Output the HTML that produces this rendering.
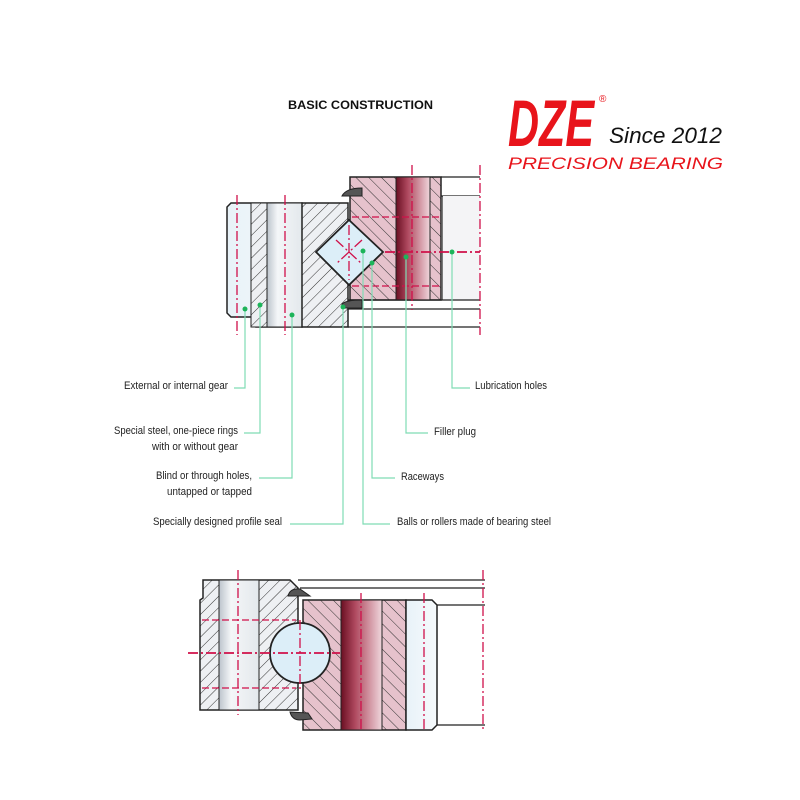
<!DOCTYPE html>
<html><head><meta charset="utf-8"><style>
html,body{margin:0;padding:0;background:#fff;width:800px;height:800px;overflow:hidden}
svg{display:block}
.lb{font-family:"Liberation Sans",sans-serif;font-size:11px;fill:#222}
</style></head><body>
<svg width="800" height="800" viewBox="0 0 800 800" xmlns="http://www.w3.org/2000/svg">
<defs>
<pattern id="hg" width="8" height="8" patternUnits="userSpaceOnUse" patternTransform="rotate(45)">
<rect width="8" height="8" fill="#eef0f3"/><line x1="0" y1="0" x2="0" y2="8" stroke="#333" stroke-width="1"/></pattern>
<pattern id="hp" width="9" height="9" patternUnits="userSpaceOnUse" patternTransform="rotate(-45)">
<rect width="9" height="9" fill="#e6c2cc"/><line x1="0" y1="0" x2="0" y2="9" stroke="#333" stroke-width="1"/></pattern>
<linearGradient id="cyl" x1="0" x2="1"><stop offset="0" stop-color="#bcc4cc"/><stop offset="0.3" stop-color="#f4f6f8"/><stop offset="1" stop-color="#e3e8ec"/></linearGradient>
<linearGradient id="red" x1="0" x2="1"><stop offset="0" stop-color="#6a0f22"/><stop offset="0.35" stop-color="#b04a60"/><stop offset="1" stop-color="#efd6dc"/></linearGradient>
<linearGradient id="lb" x1="0" x2="1"><stop offset="0" stop-color="#e8f2f8"/><stop offset="1" stop-color="#f6fafc"/></linearGradient>
</defs>

<text x="288" y="109" font-family="Liberation Sans,sans-serif" font-weight="bold" font-size="12" fill="#111" textLength="145" lengthAdjust="spacingAndGlyphs">BASIC CONSTRUCTION</text>

<!-- logo -->
<text x="508" y="146" font-family="Liberation Sans,sans-serif" font-weight="bold" font-style="italic" font-size="66" fill="#e8141b" textLength="86" lengthAdjust="spacingAndGlyphs">DZE</text>
<text x="599" y="102" font-family="Liberation Sans,sans-serif" font-size="10" fill="#e8141b">®</text>
<text x="609" y="143" font-family="Liberation Sans,sans-serif" font-style="italic" font-size="22" fill="#111" textLength="113" lengthAdjust="spacingAndGlyphs">Since 2012</text>
<text x="508" y="169" font-family="Liberation Sans,sans-serif" font-style="italic" font-size="17" fill="#e8141b" textLength="215" lengthAdjust="spacingAndGlyphs">PRECISION BEARING</text>

<!-- TOP DRAWING -->
<g stroke="#222" stroke-width="1.5">
<path d="M231 203 L302 203 L302 327 L256 327 L256 317 L231 317 L227 313 L227 207 Z" fill="url(#lb)"/>
<rect x="251" y="203" width="16" height="124" fill="url(#hg)" stroke-width="1"/>
<rect x="267" y="203" width="35" height="124" fill="url(#cyl)" stroke-width="1"/>
<path d="M302 203 L348 203 L348 327 L302 327 Z" fill="url(#hg)"/>
<rect x="350" y="177" width="91" height="123" fill="url(#hp)"/>
<rect x="396" y="177" width="34" height="123" fill="url(#red)" stroke-width="1"/>
<path d="M441 177 L480 177 M441 196 L480 196 M443 196 L443 300" fill="none" stroke-width="1.2"/>
<rect x="443" y="196" width="37" height="104" fill="#f4f4f6" stroke="none"/>
<path d="M348 300 L480 300 M348 309 L480 309 M348 327 L480 327" fill="none" stroke-width="1.2"/>
<polygon points="349,220 383,252 349,285 316,252" fill="#dceef8" stroke-width="1.8"/>
</g>
<path d="M342 196 Q346 188 362 188 L362 196 Z" fill="#555" stroke="#222"/>
<path d="M342 304 Q346 300 362 300 L362 308 L342 308 Z" fill="#555" stroke="#222"/>
<g stroke="#d0104a" stroke-width="1.3" stroke-dasharray="10,3,2,3" fill="none">
<line x1="237" y1="195" x2="237" y2="335"/>
<line x1="285" y1="195" x2="285" y2="335"/>
<line x1="412" y1="165" x2="412" y2="310"/>
<line x1="480" y1="165" x2="480" y2="335"/>
<line x1="385" y1="252" x2="480" y2="252" stroke-width="1.8"/>
<line x1="336" y1="240" x2="362" y2="264"/><line x1="362" y1="240" x2="336" y2="264"/>
<line x1="349" y1="225" x2="349" y2="280"/>
</g>
<g stroke="#d0104a" stroke-width="1.3" stroke-dasharray="7,3" fill="none">
<line x1="352" y1="217" x2="440" y2="217"/><line x1="352" y1="286" x2="440" y2="286"/>
</g>
<!-- leaders -->
<g stroke="#7fdcb4" stroke-width="1.2" fill="none">
<path d="M245 309 V388 H234"/>
<path d="M260 305 V433 H244"/>
<path d="M292 315 V478 H259"/>
<path d="M343 307 V524 H290"/>
<path d="M363 251 V524 H390"/>
<path d="M372 263 V478 H395"/>
<path d="M406 257 V433 H428"/>
<path d="M452 252 V388 H470"/>
</g>
<g fill="#1db45a">
<circle cx="245" cy="309" r="2.5"/><circle cx="260" cy="305" r="2.5"/><circle cx="292" cy="315" r="2.5"/>
<circle cx="343" cy="307" r="2.5"/><circle cx="363" cy="251" r="2.5"/><circle cx="372" cy="263" r="2.5"/>
<circle cx="406" cy="257" r="2.5"/><circle cx="452" cy="252" r="2.5"/>
</g>
<text class="lb" x="124" y="389" textLength="104" lengthAdjust="spacingAndGlyphs">External or internal gear</text>
<text class="lb" x="114" y="434" textLength="124" lengthAdjust="spacingAndGlyphs">Special steel, one-piece rings</text>
<text class="lb" x="152" y="450" textLength="86" lengthAdjust="spacingAndGlyphs">with or without gear</text>
<text class="lb" x="156" y="479" textLength="96" lengthAdjust="spacingAndGlyphs">Blind or through holes,</text>
<text class="lb" x="167" y="495" textLength="85" lengthAdjust="spacingAndGlyphs">untapped or tapped</text>
<text class="lb" x="153" y="525" textLength="129" lengthAdjust="spacingAndGlyphs">Specially designed profile seal</text>
<text class="lb" x="397" y="525" textLength="154" lengthAdjust="spacingAndGlyphs">Balls or rollers made of bearing steel</text>
<text class="lb" x="401" y="480" textLength="43" lengthAdjust="spacingAndGlyphs">Raceways</text>
<text class="lb" x="434" y="435" textLength="42" lengthAdjust="spacingAndGlyphs">Filler plug</text>
<text class="lb" x="475" y="389" textLength="72" lengthAdjust="spacingAndGlyphs">Lubrication holes</text>

<!-- BOTTOM DRAWING -->
<g stroke="#222" stroke-width="1.5">
<path d="M203 580 L290 580 L298 588 L298 710 L200 710 L200 600 L203 598 Z" fill="url(#hg)"/>
<rect x="219" y="580" width="40" height="130" fill="url(#cyl)" stroke-width="1"/>
<path d="M298 580 L485 580 M300 588 L485 588" fill="none" stroke-width="1.2"/>
<rect x="303" y="600" width="103" height="130" fill="url(#hp)"/>
<rect x="341" y="600" width="41" height="130" fill="url(#red)" stroke-width="1"/>
<path d="M406 600 L432 600 L437 605 L437 725 L432 730 L406 730 Z" fill="url(#lb)"/>
<path d="M437 605 L485 605 M437 725 L485 725" fill="none" stroke-width="1.2"/>
<circle cx="300" cy="653" r="30" fill="#dceef8" stroke-width="1.8"/>
</g>
<path d="M288 596 Q290 588 300 589 L310 596 Z" fill="#555" stroke="#222"/>
<path d="M290 712 Q292 720 300 720 L312 719 L308 713 Z" fill="#555" stroke="#222"/>
<g stroke="#d0104a" stroke-width="1.3" stroke-dasharray="10,3,2,3" fill="none">
<line x1="238" y1="570" x2="238" y2="715"/>
<line x1="361" y1="593" x2="361" y2="732"/>
<line x1="424" y1="593" x2="424" y2="732"/>
<line x1="483" y1="570" x2="483" y2="732"/>
<line x1="188" y1="653" x2="340" y2="653" stroke-width="1.8"/>
<line x1="300" y1="620" x2="300" y2="690"/>
</g>
<g stroke="#d0104a" stroke-width="1.3" stroke-dasharray="7,3" fill="none">
<line x1="202" y1="620" x2="296" y2="620"/><line x1="202" y1="688" x2="296" y2="688"/>
</g>
</svg>
</body></html>
